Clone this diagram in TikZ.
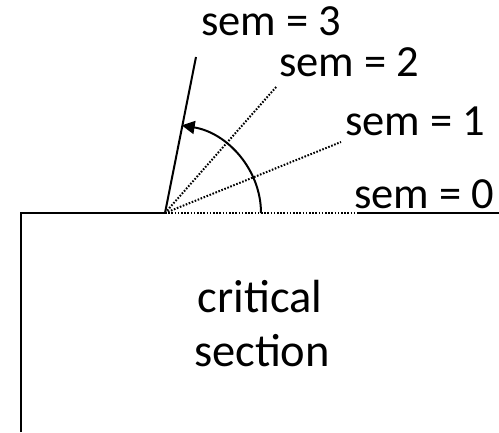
\documentclass[tikz,border=0pt]{standalone}
\usepackage{fontspec}
\setmainfont{Carlito}
\usetikzlibrary{arrows.meta}

\begin{document}
\begin{tikzpicture}[x=1pt,y=1pt,
    solidline/.style={line width=2pt},
    dotline/.style={line width=2pt, dash pattern=on 1.6pt off 1.6pt},
    semlabel/.style={anchor=base west, inner sep=0pt, font=\fontsize{44.5}{54}\selectfont},
    boxlabel/.style={anchor=base, inner sep=0pt, font=\fontsize{46.5}{54}\selectfont}]
  \useasboundingbox (0,0) rectangle (499,432);
  % ---- corner of the section and the end points of the rays ----
  \coordinate (o)    at (165,219);
  \coordinate (boxl) at (21,219);
  \coordinate (boxb) at (21,0);
  \coordinate (r0)   at (357,219);
  \coordinate (edge) at (499,219);
  \coordinate (r1)   at (341,290);
  \coordinate (r2)   at (277,346);
  \coordinate (r3)   at (196,375);
  % ---- section outline ----
  \draw[solidline] (boxb) -- (boxl) -- (o);
  \draw[solidline] (r0) -- (edge);
  \draw[solidline] (o) -- (r3);
  \foreach \e in {r0,r1,r2}
    \draw[dotline] (o) -- (\e);
  % ---- rotation arrow ----
  \draw[solidline, -{Triangle[length=13pt,width=13pt]}]
    (o) ++(96,0) arc[start angle=0, end angle=80, x radius=96, y radius=89];
  % ---- labels ----
  \node[semlabel] (sem3) at (201,396) {sem = 3};
  \node[semlabel] (sem2) at (279,355) {sem = 2};
  \node[semlabel] (sem1) at (345,296) {sem = 1};
  \node[semlabel] (sem0) at (354,223) {sem = 0};
  \node[boxlabel] (crit) at (260,119) {critical};
  \node[boxlabel] (sect) at (262,65)  {section};
\end{tikzpicture}
\end{document}
